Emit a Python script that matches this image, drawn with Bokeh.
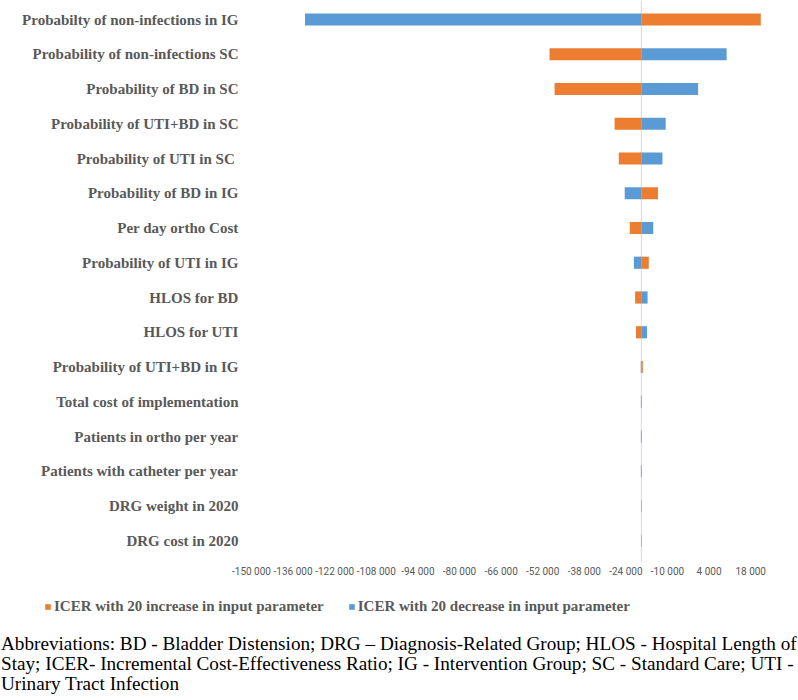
from bokeh.plotting import figure
from bokeh.models import Legend, LegendItem, FixedTicker, Div
from bokeh.layouts import column
from bokeh.core.properties import value
from bokeh.embed import file_html
from bokeh.resources import INLINE

# ---- data (top to bottom) ----
parameters = [
    "Probabilty of non-infections in IG",
    "Probability of non-infections SC",
    "Probability of BD in SC",
    "Probability of UTI+BD in SC",
    "Probability of UTI in  SC",
    "Probability of BD in IG",
    "Per day ortho Cost",
    "Probability of UTI in IG",
    "HLOS for BD",
    "HLOS for UTI",
    "Probability of UTI+BD in IG",
    "Total cost of implementation",
    "Patients in ortho per year",
    "Patients with catheter per year",
    "DRG weight in 2020",
    "DRG cost in 2020",
]
icer_increase = [21400, -49700, -48000, -27800, -26400, -13200, -22700, -16300,
                 -20900, -20600, -18300, -18650, -18650, -18650, -18700, -18700]
icer_decrease = [-132000, 9900, 300, -10600, -11700, -24400, -14800, -21300,
                 -16700, -16900, -19000, -18950, -18950, -18950, -18900, -18900]
base_icer = -18800
tick_values = [-150000, -136000, -122000, -108000, -94000, -80000, -66000,
               -52000, -38000, -24000, -10000, 4000, 18000]
legend_labels = ["ICER with 20 increase in input parameter",
                 "ICER with 20 decrease in input parameter"]
footnote_lines = [
    "Abbreviations: BD - Bladder Distension; DRG \u2013 Diagnosis-Related Group; HLOS - Hospital Length of",
    "Stay; ICER- Incremental Cost-Effectiveness Ratio; IG - Intervention Group; SC - Standard Care; UTI -",
    "Urinary Tract Infection",
]

ORANGE = "#ED7D31"
BLUE = "#5B9BD5"
GREY = "#595959"

# ---- layout constants (pixels) ----
FRAME_W = 790
FRAME_H = 615
AXIS_ZERO_PX = 251          # where -150 000 sits
PX_PER_UNIT = 41.6 / 14000  # tick spacing
LABEL_RIGHT_PX = 238
ROW1_PX = 19
ROW_PX = 34.75
XAXIS_PX = 560
BASELINE_BOTTOM_PX = 562

n = len(parameters)
ypos = list(range(n, 0, -1))

x_start = tick_values[0] - AXIS_ZERO_PX / PX_PER_UNIT
x_end = x_start + FRAME_W / PX_PER_UNIT
label_x = tick_values[0] - (AXIS_ZERO_PX - LABEL_RIGHT_PX) / PX_PER_UNIT
y_top = n + ROW1_PX / ROW_PX
y_bottom = y_top - FRAME_H / ROW_PX
y_of = lambda px: y_top - px / ROW_PX

p = figure(frame_width=FRAME_W, frame_height=FRAME_H, output_backend="svg",
           toolbar_location=None, x_range=(x_start, x_end),
           y_range=(y_bottom, y_top),
           min_border_left=0, min_border_right=0, min_border_top=0,
           min_border_bottom=21)
p.outline_line_color = None
p.grid.visible = False
p.yaxis.visible = False
p.background_fill_color = "white"
p.border_fill_color = "white"

# baseline (value axis crossing)
p.segment(x0=[base_icer], y0=[y_of(BASELINE_BOTTOM_PX)], x1=[base_icer], y1=[y_top],
          line_color="#D9D9D9", line_width=1)

r_inc = p.hbar(y=ypos, left=base_icer, right=icer_increase, height=0.35,
               fill_color=ORANGE, line_color=None)
r_dec = p.hbar(y=ypos, left=base_icer, right=icer_decrease, height=0.35,
               fill_color=BLUE, line_color=None)

# category labels
p.text(x=[label_x] * n, y=ypos, text=parameters, text_align="right",
       text_baseline="middle", text_font=value("Liberation Serif"),
       text_font_style="bold", text_font_size="15px", text_color=GREY)

# x axis, drawn at a fixed place inside the frame
p.xaxis.fixed_location = y_of(XAXIS_PX)
p.xaxis.ticker = FixedTicker(ticks=tick_values)
p.xaxis.major_label_overrides = {t: f"{t:,}".replace(",", " ") for t in tick_values}
p.xaxis.axis_line_color = None
p.xaxis.major_tick_line_color = None
p.xaxis.minor_tick_line_color = None
p.xaxis.major_tick_in = 0
p.xaxis.major_tick_out = 0
p.xaxis.major_label_standoff = 5
p.xaxis.major_label_text_font = "Roboto"
p.xaxis.major_label_text_font_size = "10px"
p.xaxis.major_label_text_color = GREY

legend = Legend(
    items=[LegendItem(label=legend_labels[0], renderers=[r_inc]),
           LegendItem(label=legend_labels[1], renderers=[r_dec])],
    orientation="horizontal", location=(44, 0),
    glyph_width=7, glyph_height=7, label_standoff=3, spacing=24,
    padding=0, margin=0, border_line_color=None, background_fill_alpha=0,
    label_text_font="Liberation Serif", label_text_font_style="bold",
    label_text_font_size="15px", label_text_color=GREY, label_height=16,
)
p.add_layout(legend, "center")

div = Div(
    text="<div style='position:relative;left:-4px;top:-7px;white-space:nowrap;'>"
         + "<br>".join(footnote_lines) + "</div>",
    width=FRAME_W, height=56,
    styles={"font-family": "Liberation Serif", "font-size": "19.2px",
            "line-height": "20px", "color": "black"},
)

layout = column(p, div, spacing=0)
open("out.html", "w").write(file_html(layout, INLINE))
